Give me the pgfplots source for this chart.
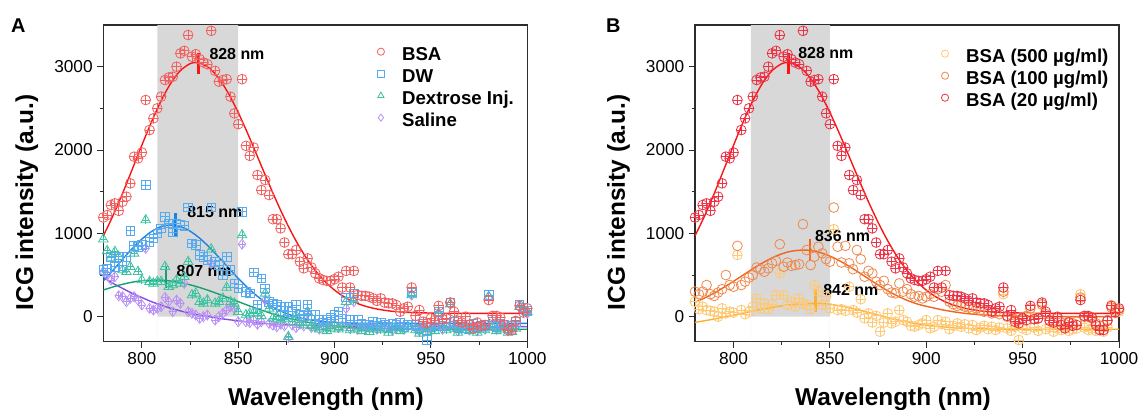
\documentclass[border=0pt]{standalone}
\usepackage{fontspec}
\setmainfont{Liberation Sans}
\usepackage{pgfplots}
\usepackage{pgfplotstable}
\pgfplotsset{compat=1.18}
\definecolor{rM}{RGB}{242,95,95}
\definecolor{rMB}{RGB}{236,50,70}
\definecolor{rL}{RGB}{250,20,20}
\definecolor{bM}{RGB}{85,170,240}
\definecolor{bL}{RGB}{30,130,225}
\definecolor{gM}{RGB}{60,195,160}
\definecolor{gL}{RGB}{20,160,115}
\definecolor{pM}{RGB}{185,145,245}
\definecolor{pL}{RGB}{135,75,230}
\definecolor{yM}{RGB}{255,200,115}
\definecolor{yL}{RGB}{255,175,45}
\definecolor{oM}{RGB}{240,135,75}
\definecolor{oL}{RGB}{240,100,30}
\definecolor{band}{RGB}{216,216,216}
\definecolor{axc}{RGB}{45,45,45}

\pgfplotstableread{
x y
780 1190
782 1220
784 1340
786 1360
788 1270
790 1380
792 1440
794 1600
796 1920
798 1900
800 1970
802 2600
804 2240
806 2380
808 2500
810 2640
812 2840
814 2870
816 2880
818 3000
820 3160
822 3190
824 3380
826 3120
828 3150
830 3090
832 3050
834 3030
836 3430
838 2950
840 2820
842 2840
844 2850
846 2640
848 2440
850 2310
852 2850
854 2050
856 1930
858 2030
860 1700
862 1520
864 1640
866 1460
868 1170
870 1170
872 1060
874 890
876 750
878 750
880 800
882 660
884 580
886 700
888 590
890 520
892 460
894 440
896 430
898 430
900 450
902 480
904 350
906 550
908 350
910 550
912 260
914 250
916 250
918 240
920 220
922 190
924 220
926 170
928 160
930 160
932 140
934 60
936 100
938 120
940 350
942 10
944 80
946 -60
948 -80
950 -20
952 -40
954 130
956 -30
958 -20
960 170
962 60
964 -50
966 -70
968 0
970 -100
972 -140
974 -70
976 -110
978 -100
980 200
982 10
984 10
986 -10
988 -100
990 -160
992 -160
994 -50
996 130
998 50
1000 100
}\bsa

\pgfplotstableread{
x y
780 560
782 580
784 720
786 600
788 720
790 610
792 720
794 1030
796 850
798 840
800 860
802 1580
804 900
806 940
808 1000
810 1060
812 1200
814 1120
816 1010
818 1120
820 1100
822 1090
824 1310
826 880
828 860
830 740
832 720
834 680
836 1310
838 660
840 620
842 500
844 720
846 560
848 400
850 340
852 1260
854 300
856 280
858 530
860 150
862 460
864 340
866 180
868 160
870 140
872 120
874 20
876 120
878 60
880 140
882 30
884 10
886 150
888 20
890 20
892 -40
894 -70
896 -30
898 -10
900 20
902 60
904 -20
906 230
908 -40
910 280
912 -40
914 -80
916 -100
918 -90
920 -60
922 -110
924 -70
926 -90
928 -120
930 -80
932 -100
934 -70
936 -120
938 -90
940 290
942 -100
944 -140
946 -80
948 -280
950 -120
952 -90
954 60
956 -110
958 -80
960 170
962 -60
964 -120
966 -90
968 -140
970 -100
972 -80
974 -130
976 -110
978 -90
980 260
982 -60
984 -120
986 -80
988 -100
990 -140
992 -110
994 -60
996 140
998 110
1000 70
}\dw

\pgfplotstableread{
x y
780 930
782 790
784 710
786 780
788 720
790 560
792 540
794 600
796 760
798 540
800 440
802 1160
804 420
806 400
808 420
810 420
812 600
814 360
816 380
818 440
820 400
822 480
824 660
826 260
828 280
830 180
832 160
834 200
836 810
838 160
840 180
842 220
844 350
846 180
848 160
850 60
852 980
854 20
856 40
858 50
860 40
862 10
864 280
866 100
868 -20
870 0
872 -40
874 -20
876 -240
878 -60
880 20
882 -70
884 -100
886 60
888 -110
890 -130
892 -150
894 -120
896 -170
898 -140
900 -100
902 -150
904 -130
906 180
908 -160
910 200
912 -140
914 -170
916 -130
918 -180
920 -150
922 -120
924 -160
926 -140
928 -190
930 -150
932 -130
934 -170
936 -150
938 -120
940 260
942 -160
944 -200
946 -140
948 -180
950 -150
952 -170
954 40
956 -130
958 -160
960 150
962 -140
964 -190
966 -160
968 -120
970 -170
972 -150
974 -190
976 -140
978 -160
980 240
982 -130
984 -170
986 -150
988 -130
990 -190
992 -180
994 -140
996 120
998 90
1000 60
}\dex

\pgfplotstableread{
x y
780 540
782 500
784 440
786 480
788 250
790 240
792 180
794 220
796 240
798 200
800 140
802 820
804 100
806 80
808 100
810 120
812 230
814 180
816 60
818 200
820 160
822 400
824 60
826 40
828 20
830 -20
832 0
834 20
836 640
838 -40
840 0
842 40
844 80
846 120
848 100
850 -60
852 870
854 -60
856 -70
858 -40
860 -90
862 -60
864 200
866 -80
868 -100
870 -120
872 -90
874 -110
876 -250
878 -100
880 -130
882 -90
884 -110
886 40
888 -130
890 -120
892 -150
894 -110
896 -140
898 -120
900 -100
902 -130
904 -110
906 100
908 -140
910 180
912 -150
914 -120
916 -140
918 -110
920 -130
922 -150
924 -100
926 -140
928 -120
930 -160
932 -130
934 -110
936 -150
938 -120
940 260
942 -140
944 -170
946 -120
948 -160
950 -140
952 -110
954 20
956 -150
958 -120
960 150
962 -130
964 -170
966 -140
968 -110
970 -160
972 -130
974 -170
976 -120
978 -150
980 240
982 -120
984 -150
986 -130
988 -110
990 -170
992 -160
994 -120
996 110
998 60
1000 40
}\sal

\pgfplotstableread{
x y
780 180
782 90
784 120
786 80
788 70
790 60
792 0
794 100
796 40
798 60
800 50
802 740
804 80
806 30
808 60
810 120
812 220
814 100
816 160
818 90
820 150
822 260
824 520
826 260
828 140
830 180
832 120
834 220
836 160
838 140
840 90
842 380
844 300
846 140
848 240
850 100
852 1050
854 80
856 90
858 70
860 360
862 80
864 50
866 210
868 -20
870 40
872 -70
874 10
876 -180
878 -70
880 40
882 -80
884 -60
886 80
888 -40
890 -60
892 -110
894 -120
896 -100
898 -80
900 -40
902 -140
904 -120
906 -40
908 -90
910 -60
912 -150
914 -110
916 -80
918 -120
920 -90
922 -140
924 -100
926 -160
928 -130
930 -110
932 -150
934 -120
936 -160
938 -130
940 270
942 -140
944 -170
946 -120
948 -280
950 -140
952 -160
954 40
956 -130
958 -170
960 140
962 -150
964 -130
966 -180
968 -140
970 -160
972 -130
974 -170
976 -150
978 -140
980 270
982 -130
984 -160
986 -140
988 -170
990 -150
992 -180
994 -130
996 140
998 100
1000 60
}\cfive

\pgfplotstableread{
x y
780 300
782 270
784 300
786 380
788 270
790 250
792 290
794 330
796 500
798 380
800 360
802 850
804 380
806 420
808 470
810 500
812 590
814 570
816 540
818 580
820 640
822 670
824 870
826 600
828 650
830 610
832 620
834 630
836 1110
838 800
840 620
842 720
844 840
846 760
848 690
850 660
852 1310
854 840
856 650
858 850
860 640
862 570
864 800
866 690
868 480
870 550
872 520
874 420
876 380
878 430
880 330
882 290
884 280
886 400
888 300
890 330
892 270
894 240
896 250
898 220
900 240
902 270
904 240
906 330
908 300
910 380
912 180
914 150
916 130
918 140
920 120
922 110
924 90
926 100
928 80
930 60
932 70
934 40
936 50
938 30
940 300
942 0
944 20
946 -30
948 -40
950 -20
952 10
954 100
956 -30
958 -20
960 150
962 30
964 -40
966 -50
968 -20
970 -70
972 -90
974 -60
976 -80
978 -60
980 230
982 0
984 0
986 -20
988 -80
990 -110
992 -100
994 -40
996 110
998 70
1000 80
}\cone

\tikzset{lab/.style={font=\bfseries\fontsize{16}{18}\selectfont, anchor=west, inner sep=0pt}}

\pgfplotsset{
  myax/.style={
    width=424bp, height=316.7bp, scale only axis,
    xmin=780, xmax=1000, ymin=-300, ymax=3500,
    xtick={800,850,900,950,1000}, ytick={0,1000,2000,3000},
    minor x tick num=1, minor y tick num=1,
    tick align=outside, tick pos=left,
    major tick length=6.5bp, minor tick length=3.5bp,
    every tick/.style={axc, line width=1bp},
    axis line style={axc, line width=1.2bp},
    /pgf/number format/assume math mode=true,
    /pgf/number format/1000 sep={},
    scaled ticks=false,
    ticklabel style={font=\fontsize{17.3}{19}\selectfont, text=black},
    xticklabel style={inner sep=0pt, yshift=-4bp},
    yticklabel style={inner sep=0pt, xshift=-4bp},
    xlabel={Wavelength (nm)},
    ylabel={ICG intensity (a.u.)},
    label style={font=\bfseries\fontsize{24.5}{26}\selectfont, inner sep=0pt},
    ylabel style={at={(axis description cs:-0.2075,0.44)}, anchor=north},
    legend cell align=left,
    legend image code/.code={\draw[##1, mark size=3.6bp, mark options={line width=0.8bp}] plot coordinates {(0bp,6bp)}; \path (-4bp,6bp) (4bp,6bp);},
    legend style={draw=none, fill=none, inner sep=0pt, outer sep=0pt, row sep=0pt,
      font=\bfseries\fontsize{18.7}{20}\selectfont,
      nodes={inner xsep=0pt, inner ysep=0pt, text height=14bp, text depth=8bp},
      /tikz/every odd column/.append style={column sep=17bp}},
  },
  mk/.style={only marks, mark options={line width=0.8bp}, forget plot},
  fit/.style={line width=1.4bp, smooth, tension=0.5, forget plot},
  pk/.style={line width=2.6bp, forget plot},
}

\begin{document}
\begin{tikzpicture}
\useasboundingbox (0,0) rectangle (1141bp,-410bp);

% ---------- Panel A ----------
\begin{axis}[myax, at={(103.3bp,-341.7bp)}, anchor=south west,
  xlabel style={at={(axis description cs:0.525,-0.1452)}, anchor=north},
  legend style={at={(axis description cs:0.6448,0.9315)}, anchor=north west}]
\addplot[fill=band, draw=none, forget plot] coordinates {(808,-300) (808,3500) (850,3500) (850,-300)} \closedcycle;

\addplot[mk, color=pM, mark=diamond, mark size=5bp] table {\sal};
\addplot[mk, color=pM, mark=+, mark size=3.6bp] table {\sal};
\addplot[mk, color=gM, mark=triangle, mark size=5.5bp] table {\dex};
\addplot[mk, color=gM, mark=+, mark size=3.6bp] table {\dex};
\addplot[mk, color=bM, mark=square, mark size=4.3bp] table {\dw};
\addplot[mk, color=bM, mark=+, mark size=4.3bp] table {\dw};
\addplot[mk, color=rM, mark=o, mark size=4.9bp] table {\bsa};
\addplot[mk, color=rM, mark=+, mark size=4.9bp] table {\bsa};

\addplot[fit, color=pL] coordinates {(780,470) (785,400) (790,340) (795,280) (800,230) (805,180) (810,140) (815,100) (820,70) (825,40) (830,20) (835,0) (840,-20) (845,-35) (850,-50) (855,-62) (860,-75) (865,-83) (870,-90) (880,-100) (890,-106) (900,-110) (920,-115) (950,-118) (1000,-120)};
\addplot[fit, color=gL] coordinates {(780,320) (785,357) (790,389) (795,414) (800,431) (807,440) (810,438) (815,428) (820,410) (825,383) (830,350) (835,312) (840,270) (845,226) (850,181) (855,137) (860,95) (865,56) (870,21) (875,-11) (880,-38) (885,-62) (890,-81) (895,-98) (900,-110) (910,-129) (920,-139) (930,-145) (950,-149) (1000,-150)};
\addplot[fit, color=bL] coordinates {(780,429) (785,556) (790,689) (795,817) (800,931) (805,1022) (810,1080) (815,1100) (820,1081) (825,1027) (830,942) (835,834) (840,712) (845,585) (850,460) (855,345) (860,244) (865,160) (870,91) (875,39) (880,0) (885,-28) (890,-47) (895,-60) (900,-68) (910,-77) (920,-79) (950,-80) (1000,-80)};
\addplot[fit, color=rL] coordinates {(780,969) (785,1211) (790,1480) (795,1767) (800,2057) (805,2337) (810,2591) (815,2801) (820,2953) (825,3036) (828,3050) (830,3044) (835,2983) (840,2857) (845,2676) (850,2450) (855,2194) (860,1921) (865,1646) (870,1379) (875,1132) (880,910) (885,717) (890,555) (895,423) (900,319) (905,238) (910,177) (915,133) (920,102) (925,80) (930,65) (935,56) (940,50) (950,44) (960,41) (1000,40)};

\addplot[pk, color=rL] coordinates {(829.5,2910) (829.5,3170)};
\addplot[pk, color=bL] coordinates {(817.5,970) (817.5,1240)};
\addplot[pk, color=gL] coordinates {(812.5,340) (812.5,600)};
\node[lab] at (axis cs:835,3150) {828 nm};
\node[lab] at (axis cs:823.5,1260) {815 nm};
\node[lab] at (axis cs:818,550) {807 nm};

\addlegendimage{only marks, mark=o, color=rM}
\addlegendentry{BSA}
\addlegendimage{only marks, mark=square, color=bM}
\addlegendentry{DW}
\addlegendimage{only marks, mark=triangle, color=gM}
\addlegendentry{Dextrose Inj.}
\addlegendimage{only marks, mark=diamond, color=pM}
\addlegendentry{Saline}
\end{axis}

% ---------- Panel B ----------
\begin{axis}[myax, at={(695bp,-341.7bp)}, anchor=south west,
  xlabel style={at={(axis description cs:0.467,-0.1452)}, anchor=north},
  legend style={at={(axis description cs:0.5798,0.9252)}, anchor=north west}]
\addplot[fill=band, draw=none, forget plot] coordinates {(809,-300) (809,3500) (850,3500) (850,-300)} \closedcycle;

\addplot[mk, color=yM, mark=o, mark size=4.9bp] table {\cfive};
\addplot[mk, color=yM, mark=+, mark size=4.9bp] table {\cfive};
\addplot[mk, color=oM, mark=o, mark size=4.9bp] table {\cone};
\addplot[mk, color=rMB, mark=o, mark size=4.9bp] table {\bsa};
\addplot[mk, color=rMB, mark=+, mark size=4.9bp] table {\bsa};

\addplot[fit, color=yL] coordinates {(780,-68) (790,-28) (800,18) (810,67) (820,112) (830,145) (842,160) (850,149) (860,109) (870,51) (880,-11) (890,-64) (900,-102) (910,-126) (920,-139) (930,-146) (950,-150) (1000,-150)};
\addplot[fit, color=oL] coordinates {(780,173) (785,225) (790,285) (795,352) (800,425) (805,500) (810,575) (815,645) (820,706) (825,754) (830,786) (836,800) (840,794) (845,769) (850,727) (855,671) (860,604) (865,531) (870,455) (875,381) (880,311) (885,250) (890,197) (895,155) (900,125) (910,75) (920,40) (930,20) (940,10) (960,2) (1000,0)};
\addplot[fit, color=rL] coordinates {(780,969) (785,1211) (790,1480) (795,1767) (800,2057) (805,2337) (810,2591) (815,2801) (820,2953) (825,3036) (828,3050) (830,3044) (835,2983) (840,2857) (845,2676) (850,2450) (855,2194) (860,1921) (865,1646) (870,1379) (875,1132) (880,910) (885,717) (890,555) (895,423) (900,319) (905,238) (910,177) (915,133) (920,102) (925,80) (930,65) (935,56) (940,50) (950,44) (960,41) (1000,40)};

\addplot[pk, color=rL] coordinates {(828.5,2910) (828.5,3170)};
\addplot[pk, color=oL] coordinates {(839.7,672) (839.7,929)};
\addplot[pk, color=yL] coordinates {(842.5,60) (842.5,329)};
\node[lab] at (axis cs:833.5,3160) {828 nm};
\node[lab] at (axis cs:842.2,970) {836 nm};
\node[lab] at (axis cs:846.5,320) {842 nm};

\addlegendimage{only marks, mark=o, color=yM}
\addlegendentry{BSA (500 µg/ml)}
\addlegendimage{only marks, mark=o, color=oM}
\addlegendentry{BSA (100 µg/ml)}
\addlegendimage{only marks, mark=o, color=rMB}
\addlegendentry{BSA (20 µg/ml)}
\end{axis}

\node[font=\bfseries\fontsize{20}{22}\selectfont, anchor=base west, inner sep=0pt] at (11bp,-32.7bp) {A};
\node[font=\bfseries\fontsize{20}{22}\selectfont, anchor=base west, inner sep=0pt] at (606bp,-32.7bp) {B};
\end{tikzpicture}
\end{document}
